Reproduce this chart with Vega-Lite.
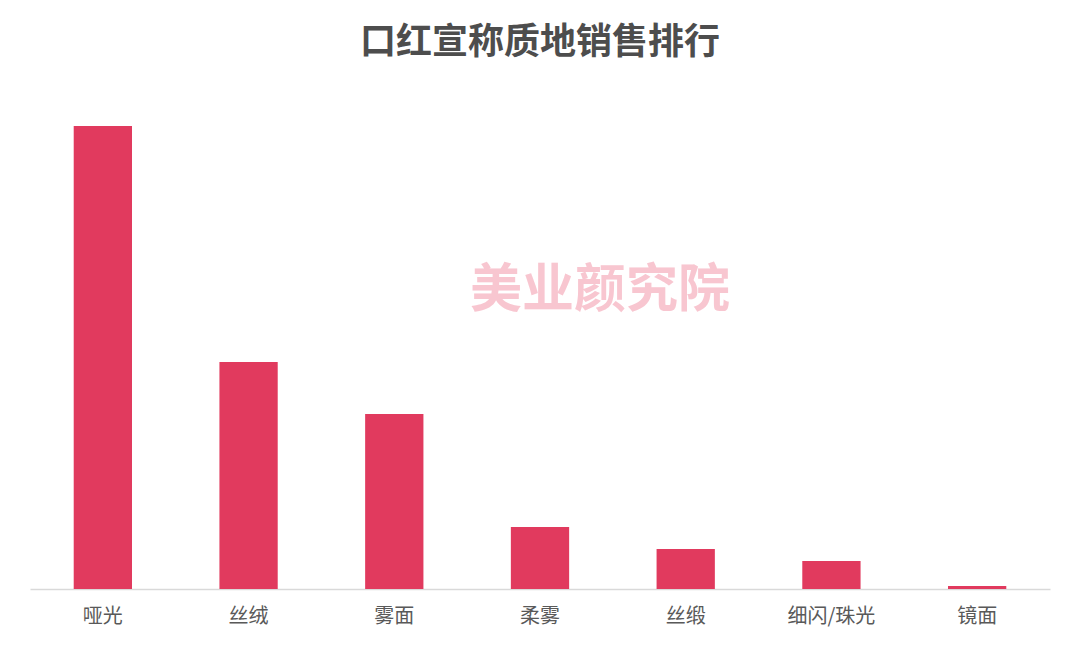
{
  "$schema": "https://vega.github.io/schema/vega-lite/v6.json",
  "autosize": "none",
  "width": 1020,
  "height": 489,
  "padding": {"left": 30, "right": 30, "top": 100, "bottom": 60},
  "background": "#ffffff",
  "title": {
    "text": "口红宣称质地销售排行",
    "fontSize": 36,
    "fontWeight": "bold",
    "font": "Noto Sans CJK SC",
    "color": "#4d4d4d",
    "anchor": "middle",
    "offset": 38
  },
  "layer": [
    {
      "data": {
        "values": [
          {"质地": "哑光", "销售": 463},
          {"质地": "丝绒", "销售": 227},
          {"质地": "雾面", "销售": 175},
          {"质地": "柔雾", "销售": 62},
          {"质地": "丝缎", "销售": 40},
          {"质地": "细闪/珠光", "销售": 28},
          {"质地": "镜面", "销售": 3}
        ]
      },
      "mark": {"type": "bar", "color": "#e13a5e"},
      "encoding": {
        "x": {
          "field": "质地",
          "type": "nominal",
          "sort": null,
          "scale": {"paddingInner": 0.6, "paddingOuter": 0.3},
          "axis": {
            "title": null,
            "labelAngle": 0,
            "labelFontSize": 20,
            "labelFont": "Noto Sans CJK SC",
            "labelColor": "#595959",
            "labelPadding": 17,
            "ticks": false,
            "domainColor": "#d9d9d9",
            "domainWidth": 1.5
          }
        },
        "y": {
          "field": "销售",
          "type": "quantitative",
          "scale": {"domain": [0, 489], "nice": false},
          "axis": null
        }
      }
    },
    {
      "data": {"values": [{"质地": "柔雾", "销售": 298, "label": "美业颜究院"}]},
      "mark": {"type": "text", "font": "Noto Sans CJK SC", "fontWeight": "bold", "fontSize": 52, "color": "#f8c6d0", "dx": 60, "baseline": "middle", "align": "center"},
      "encoding": {
        "x": {"field": "质地", "type": "nominal", "sort": null},
        "y": {"field": "销售", "type": "quantitative"},
        "text": {"field": "label"}
      }
    }
  ],
  "config": {"view": {"stroke": null}}
}
